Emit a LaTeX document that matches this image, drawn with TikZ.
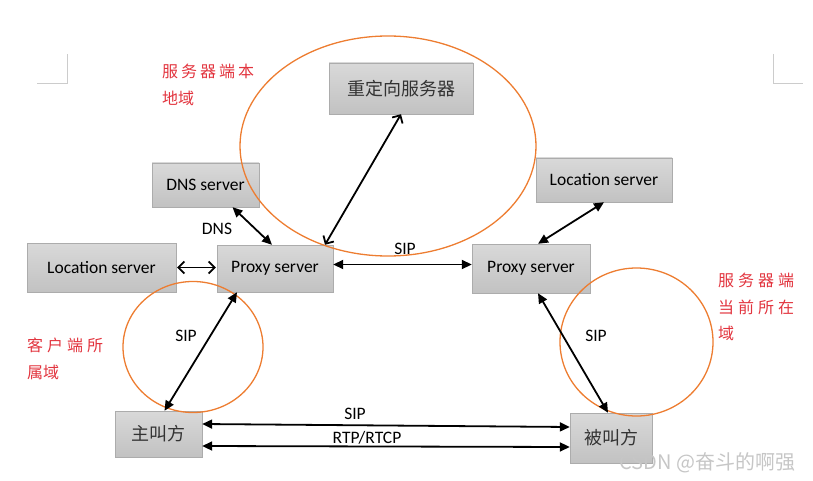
\documentclass[tikz,border=0pt]{standalone}
\usepackage{fontspec}
\setmainfont{Carlito}
\newfontfamily\cjk{Noto Sans CJK SC}
\usetikzlibrary{arrows.meta,shadows}
\definecolor{ringorange}{RGB}{237,125,49}
\definecolor{notered}{RGB}{226,52,62}
\newcommand{\cgap}{\kern3pt}

\begin{document}
\begin{tikzpicture}[x=1pt, y=-1pt, font=\fontsize{17.5}{20}\selectfont,
  box/.style={draw=gray!65, top color=gray!30, bottom color=gray!48,
    drop shadow={opacity=0.25, shadow xshift=1pt, shadow yshift=-1pt},
    inner sep=0pt},
  zh/.style={font=\cjk\fontsize{18}{20}\selectfont, text=black!80},
  ring/.style={draw=ringorange, line width=1.3pt},
  note/.style={text=notered, font=\cjk\fontsize{16}{26.5}\selectfont,
    align=left, anchor=north west, inner sep=0pt},
  link/.style={{Triangle[length=10pt,width=9pt]}-{Triangle[length=10pt,width=9pt]},
    line width=1.8pt},
  barb/.style={{Straight Barb[length=6pt,width=12pt]}-{Straight Barb[length=6pt,width=12pt]},
    line width=1.8pt},
  crop/.style={draw=gray!40, line width=0.8pt}]
  \useasboundingbox (0,0) rectangle (813,481);
  % page corner marks
  \draw[crop] (37,83) -- (67,83) -- (67,54);
  \draw[crop] (773,54) -- (773,83) -- (803,83);
  % servers
  \node[box, zh, minimum width=144pt, minimum height=51pt] (redir) at (401,88.5) {重定向服务器};
  \node[box, minimum width=107pt, minimum height=44pt] (dns) at (205.5,185) {DNS server};
  \node[box, minimum width=149pt, minimum height=49pt] (locL) at (101.5,267.5) {Location server};
  \node[box, minimum width=116pt, minimum height=47pt] (proxyL) at (275,268.5) {Proxy server};
  \node[box, minimum width=136pt, minimum height=44pt] (locR) at (604,180) {Location server};
  \node[box, minimum width=118pt, minimum height=49pt] (proxyR) at (531,268.5) {Proxy server};
  % end points
  \node[box, zh, minimum width=87pt, minimum height=46pt] (caller) at (158.5,434) {主叫方};
  \node[box, zh, minimum width=82pt, minimum height=50pt] (callee) at (611,438) {被叫方};
  % domains
  \draw[ring] (388,146) ellipse (148 and 110);
  \draw[ring] (193,347) ellipse (70 and 65.5);
  \draw[ring] (636.5,342) ellipse (76.5 and 74);
  \node[note] (srvlocal) at (162,64) {服\cgap 务\cgap 器\cgap 端\cgap 本\\地域};
  \node[note] (clidom) at (27,338) {客\kern4pt 户\kern4pt 端\kern4pt 所\\属域};
  \node[note] (srvcur) at (718,273) {服\kern4pt 务\kern4pt 器\kern4pt 端\\当\kern4pt 前\kern4pt 所\kern4pt 在\\域};
  % connectors
  \draw[link] ([xshift=27pt]dns.south) -- ([xshift=-3pt]proxyL.north);
  \node (dnslbl) at (217,229) {DNS};
  \draw[barb] (redir.south) -- ([xshift=50pt]proxyL.north);
  \draw[barb] ([xshift=1pt]locL.east) -- ([xshift=-1pt]locL.east -| proxyL.west);
  \draw[link] ([yshift=4pt]proxyL.east) -- ([yshift=4pt]proxyL.east -| proxyR.west);
  \node (siptop) at (405,249) {SIP};
  \draw[link] ([xshift=7pt]proxyR.north) -- (locR.south);
  \draw[link] ([xshift=-38pt]proxyL.south) -- ([xshift=6pt]caller.north);
  \node (sipleft) at (186,336) {SIP};
  \draw[link] ([xshift=7pt]proxyR.south) -- ([xshift=-3pt]callee.north);
  \node (sipright) at (596,336) {SIP};
  \draw[link] ([yshift=10pt]caller.east) -- ([yshift=11pt]callee.west);
  \node (sipbot) at (355,414) {SIP};
  \draw[link] ([yshift=-12pt]caller.east) -- ([yshift=-9pt]callee.west);
  \node (rtp) at (367,438) {RTP/RTCP};
  % watermark
  \node[font=\cjk\fontsize{20}{22}\selectfont, text=gray!45, anchor=east] (mark) at (799,463) {CSDN @奋斗的啊强};
\end{tikzpicture}
\end{document}
